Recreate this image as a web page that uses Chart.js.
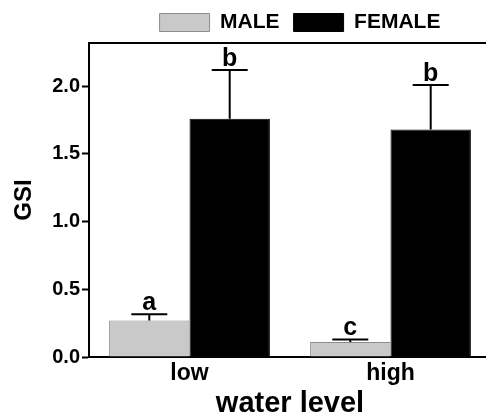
<!DOCTYPE html>
<html>
<head>
<meta charset="utf-8">
<script src="https://cdn.jsdelivr.net/npm/chart.js@4"></script>
<style>
    html, body { margin: 0; padding: 0; background: #fff; overflow: hidden; }
    #wrap { width: 492px; height: 418px; }
</style>
</head>
<body>
<div id="wrap"><canvas id="myChart" width="492" height="418"></canvas></div>
<script>
const categories = ['low', 'high'];
const maleValues = [0.27, 0.11];
const femaleValues = [1.76, 1.68];
const maleErrors = [0.045, 0.02];
const femaleErrors = [0.36, 0.33];
const maleLetters = ['a', 'c'];
const femaleLetters = ['b', 'b'];
const yMax = 2.32;

const FONT = '"Liberation Sans", Arial, sans-serif';

// upward error bars + significance letters
const errorBars = {
    id: 'errorBars',
    afterDatasetsDraw(chart) {
        const ctx = chart.ctx;
        const yScale = chart.scales.y;
        chart.data.datasets.forEach((ds, di) => {
            const meta = chart.getDatasetMeta(di);
            meta.data.forEach((bar, i) => {
                const top = yScale.getPixelForValue(ds.data[i] + ds.errors[i]);
                ctx.save();
                ctx.strokeStyle = '#000';
                ctx.lineWidth = 2;
                ctx.beginPath();
                ctx.moveTo(bar.x, bar.y);
                ctx.lineTo(bar.x, top);
                ctx.moveTo(bar.x - 18, top);
                ctx.lineTo(bar.x + 18, top);
                ctx.stroke();
                ctx.fillStyle = '#000';
                ctx.font = 'bold 25px ' + FONT;
                ctx.textAlign = 'center';
                ctx.textBaseline = 'alphabetic';
                ctx.fillText(ds.letters[i], bar.x, top - 4);
                ctx.restore();
            });
        });
    },
    afterDraw(chart) {
        // top frame line
        const {ctx, chartArea} = chart;
        ctx.save();
        ctx.strokeStyle = '#000';
        ctx.lineWidth = 2;
        ctx.beginPath();
        ctx.moveTo(chartArea.left, chartArea.top);
        ctx.lineTo(chartArea.right, chartArea.top);
        ctx.stroke();
        ctx.restore();
    },
    afterLayout(chart) {
        // legend sits a bit right of the plot centre
        chart.legend.left += 10;
        chart.legend.right += 10;
    }
};

const ctxL = document.getElementById('myChart').getContext('2d');
const myChart = new Chart(ctxL, {
    type: 'bar',
    data: {
        labels: categories,
        datasets: [{
            label: 'MALE',
            data: maleValues,
            errors: maleErrors,
            letters: maleLetters,
            backgroundColor: '#c9c9c9',
            borderColor: '#8c8c8c',
            borderWidth: 1,
            barPercentage: 1,
            categoryPercentage: 0.8
        }, {
            label: 'FEMALE',
            data: femaleValues,
            errors: femaleErrors,
            letters: femaleLetters,
            backgroundColor: '#000',
            borderColor: '#000',
            borderWidth: 1,
            barPercentage: 1,
            categoryPercentage: 0.8
        }]
    },
    options: {
        responsive: false,
        animation: false,
        layout: { padding: { top: -2, left: 0, right: 1, bottom: 0 } },
        plugins: {
            tooltip: { enabled: false },
            legend: {
                position: 'top',
                fullSize: false,
                labels: {
                    boxWidth: 50,
                    boxHeight: 18,
                    padding: 14,
                    color: '#000',
                    font: { family: FONT, size: 21, weight: 'bold', lineHeight: 1 }
                }
            }
        },
        scales: {
            x: {
                grid: { display: false },
                border: { color: '#000', width: 2 },
                ticks: {
                    color: '#000',
                    padding: -5,
                    font: { family: FONT, size: 23, weight: 'bold' }
                },
                title: {
                    display: true,
                    text: 'water level',
                    color: '#000',
                    padding: 0,
                    font: { family: FONT, size: 29, weight: 'bold', lineHeight: 1 }
                },
                afterFit: (axis) => { axis.height = 61; }
            },
            y: {
                min: 0,
                max: yMax,
                grid: {
                    drawOnChartArea: false,
                    color: '#000',
                    tickLength: 7,
                    tickWidth: 2
                },
                border: { color: '#000', width: 2 },
                ticks: {
                    stepSize: 0.5,
                    includeBounds: false,
                    color: '#000',
                    padding: 2,
                    font: { family: FONT, size: 20, weight: 'bold' },
                    callback: (v) => v.toFixed(1)
                },
                title: {
                    display: true,
                    text: 'GSI',
                    color: '#000',
                    padding: { top: 12, bottom: 0 },
                    font: { family: FONT, size: 24, weight: 'bold', lineHeight: 1 }
                },
                afterFit: (axis) => { axis.width = 89; }
            }
        }
    },
    plugins: [errorBars]
});
</script>
</body>
</html>
